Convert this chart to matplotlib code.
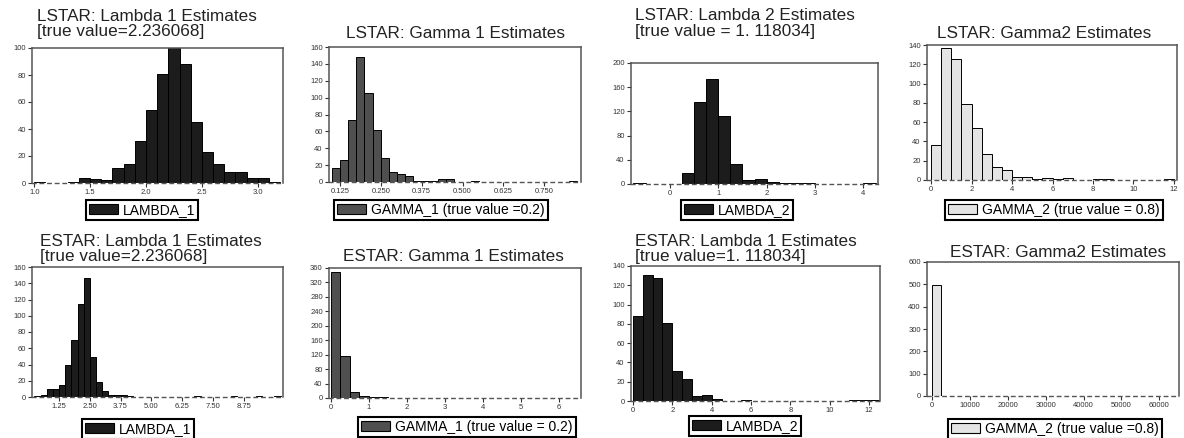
import matplotlib.pyplot as plt
import numpy as np
from matplotlib.patches import Patch
from matplotlib.ticker import FixedLocator, MultipleLocator, FormatStrFormatter

plt.rcParams['font.family'] = ['Liberation Sans', 'DejaVu Sans']

W, H = 1184, 438

# histogram counts (first bin edge, bin width, counts per bin)
lstar_lambda1_start, lstar_lambda1_width = 1.0, 0.1
lstar_lambda1 = [1, 0, 0, 1, 4, 3, 2, 11, 14, 31, 54, 81, 100, 88, 45, 23, 14, 8, 8, 4, 4, 1]

lstar_gamma1_start, lstar_gamma1_width = 0.1, 0.025
lstar_gamma1 = [17, 26, 73, 148, 106, 62, 28, 12, 10, 7, 1, 1, 1, 3, 3, 0, 0, 1,
                0, 0, 0, 0, 0, 0, 0, 0, 0, 0, 0, 1]

lstar_lambda2_start, lstar_lambda2_width = -0.75, 0.25
lstar_lambda2 = [1, 0, 0, 0, 18, 135, 173, 112, 33, 7, 8, 4, 2, 1, 1, 0, 0, 0, 0, 1]

lstar_gamma2_start, lstar_gamma2_width = 0.0, 0.5
lstar_gamma2 = [36, 137, 125, 79, 54, 27, 14, 10, 3, 3, 1, 2, 1, 2, 0, 0, 1, 1,
                0, 0, 0, 0, 0, 1]

estar_lambda1_start, estar_lambda1_width = 0.25, 0.25
estar_lambda1 = [1, 2, 10, 10, 15, 40, 70, 114, 146, 49, 19, 8, 2, 3, 3, 1,
                 0, 0, 0, 0, 0, 0, 0, 0, 0, 0, 1, 0, 0, 0, 0, 0, 1, 0, 0, 0, 1, 0, 0, 1]

estar_gamma1_start, estar_gamma1_width = 0.0, 0.25
estar_gamma1 = [349, 116, 16, 5, 3, 4, 1, 1, 0, 0, 0, 0, 0, 0, 0, 0, 0, 0, 0,
                0, 0, 0, 0, 0, 0, 1]

estar_lambda2_start, estar_lambda2_width = 0.0, 0.5
estar_lambda2 = [88, 131, 128, 81, 31, 23, 5, 6, 2, 0, 0, 1, 0, 0, 0, 0, 0, 0,
                 0, 0, 0, 0, 1, 1, 1]

estar_gamma2_start, estar_gamma2_width = 0, 2500
estar_gamma2 = [495, 2, 0, 0, 1, 0, 0, 0, 0, 0, 0, 0, 0, 0, 0, 0, 0, 0, 0, 0,
                0, 0, 0, 0, 0, 1]

# x tick labels shown on each panel
lstar_lambda1_ticks = [1.0, 1.5, 2.0, 2.5, 3.0]
lstar_gamma1_ticks = [0.125, 0.250, 0.375, 0.500, 0.625, 0.750]
lstar_lambda2_ticks = [0, 1, 2, 3, 4]
lstar_gamma2_ticks = [0, 2, 4, 6, 8, 10, 12]
estar_lambda1_ticks = [1.25, 2.50, 3.75, 5.00, 6.25, 7.50, 8.75]
estar_gamma1_ticks = [0, 1, 2, 3, 4, 5, 6]
estar_lambda2_ticks = [0, 2, 4, 6, 8, 10, 12]
estar_gamma2_ticks = [0, 10000, 20000, 30000, 40000, 50000, 60000]

titles = [
    ['LSTAR: Lambda 1 Estimates', '[true value=2.236068]'],
    ['LSTAR: Gamma 1 Estimates'],
    ['LSTAR: Lambda 2 Estimates', '[true value = 1. 118034]'],
    ['LSTAR: Gamma2 Estimates'],
    ['ESTAR: Lambda 1 Estimates', '[true value=2.236068]'],
    ['ESTAR: Gamma 1 Estimates'],
    ['ESTAR: Lambda 1 Estimates', '[true value=1. 118034]'],
    ['ESTAR: Gamma2 Estimates'],
]
legend_labels = ['LAMBDA_1', 'GAMMA_1 (true value =0.2)', 'LAMBDA_2',
                 'GAMMA_2 (true value = 0.8)', 'LAMBDA_1',
                 'GAMMA_1 (true value = 0.2)', 'LAMBDA_2',
                 'GAMMA_2 (true value =0.8)']

dark, mid, light = '#1c1c1c', '#4f4f4f', '#e4e4e4'

# data, colour, axes box in pixels (l, t, r, b), xlim, x ticks, x format, y max, y step
panels = [
    (lstar_lambda1_start, lstar_lambda1_width, lstar_lambda1, dark,
     (32, 48, 283, 183), (0.98, 3.225), lstar_lambda1_ticks, '%.1f', 100, 20),
    (lstar_gamma1_start, lstar_gamma1_width, lstar_gamma1, mid,
     (329, 47, 581, 182), (0.092, 0.862), lstar_gamma1_ticks, '%.3f', 160, 20),
    (lstar_lambda2_start, lstar_lambda2_width, lstar_lambda2, dark,
     (631, 63, 878, 184), (-0.8, 4.3), lstar_lambda2_ticks, '%d', 200, 40),
    (lstar_gamma2_start, lstar_gamma2_width, lstar_gamma2, light,
     (927, 45, 1177, 180), (-0.2, 12.15), lstar_gamma2_ticks, '%d', 140, 20),
    (estar_lambda1_start, estar_lambda1_width, estar_lambda1, dark,
     (32, 267, 283, 397), (0.15, 10.35), estar_lambda1_ticks, '%.2f', 160, 20),
    (estar_gamma1_start, estar_gamma1_width, estar_gamma1, mid,
     (329, 268, 581, 398), (-0.05, 6.58), estar_gamma1_ticks, '%d', 360, 40),
    (estar_lambda2_start, estar_lambda2_width, estar_lambda2, dark,
     (631, 266, 880, 401), (-0.1, 12.55), estar_lambda2_ticks, '%d', 140, 20),
    (estar_gamma2_start, estar_gamma2_width, estar_gamma2, light,
     (927, 262, 1179, 396), (-1300, 65200), estar_gamma2_ticks, '%d', 600, 100),
]

# title placement: (x, baseline y, alignment) per line
title_pos = [
    [(37, 21, 'left'), (37, 36, 'left')],
    [(456, 38, 'center')],
    [(635, 20, 'left'), (635, 36, 'left')],
    [(1044, 38, 'center')],
    [(40, 246, 'left'), (40, 261, 'left')],
    [(453, 261, 'center')],
    [(635, 246, 'left'), (635, 261, 'left')],
    [(1058, 257, 'center')],
]
legend_pos = [(142, 200), (441, 200), (737, 200), (1054, 200),
              (138, 419), (467, 417), (745, 416), (1055, 419)]

fig = plt.figure(figsize=(W / 100, H / 100), dpi=100)


def fx(x):
    return x / W


def fy(y):
    return 1 - y / H


for i, (start, width, counts, color, box, xlim, xticks, xfmt, ymax, ystep) in enumerate(panels):
    l, t, r, b = box
    ax = fig.add_axes([fx(l), fy(b), (r - l) / W, (b - t) / H])
    counts = np.array(counts)
    left_edges = start + width * np.arange(len(counts))
    keep = counts > 0
    ax.bar(left_edges[keep], counts[keep], width=width, align='edge',
           color=color, edgecolor='black', linewidth=0.7)
    ax.set_xlim(*xlim)
    ax.set_ylim(0, ymax)
    ax.xaxis.set_major_locator(FixedLocator(xticks))
    ax.xaxis.set_major_formatter(FormatStrFormatter(xfmt))
    ax.yaxis.set_major_locator(MultipleLocator(ystep))
    ax.tick_params(axis='both', labelsize=5.5, labelcolor='#333333', colors='#333333',
                   length=3, width=0.8, pad=1.5, direction='out')
    for side in ['left', 'top', 'right']:
        ax.spines[side].set_color('#555555')
        ax.spines[side].set_linewidth(1.1)
    ax.spines['bottom'].set_color('#555555')
    ax.spines['bottom'].set_linewidth(1.0)
    ax.spines['bottom'].set_linestyle((0, (2.5, 3)))

    for text, (tx, ty, ha) in zip(titles[i], title_pos[i]):
        fig.text(fx(tx), fy(ty), text, ha=ha, va='baseline', fontsize=12.3, color='#222222')

    lx, ly = legend_pos[i]
    leg = ax.legend(handles=[Patch(facecolor=color, edgecolor='black', linewidth=0.8,
                                   label=legend_labels[i])],
                    loc='upper center', bbox_to_anchor=(fx(lx), fy(ly)),
                    bbox_transform=fig.transFigure, fancybox=False, framealpha=1,
                    edgecolor='black', fontsize=10, borderpad=0.2,
                    handlelength=2.1, handleheight=0.65, handletextpad=0.35,
                    borderaxespad=0)
    leg.get_frame().set_linewidth(1.5)

fig.savefig('out.png', dpi=100)
